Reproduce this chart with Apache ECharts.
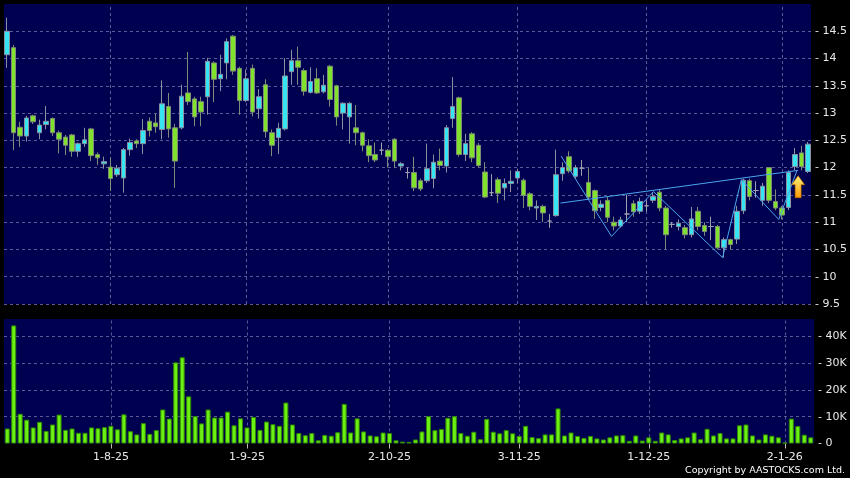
<!DOCTYPE html>
<html>
<head>
<meta charset="utf-8">
<script src="https://cdn.jsdelivr.net/npm/echarts@6/dist/echarts.min.js"></script>
<style>
html,body{margin:0;padding:0;background:#000;}
#c{width:850px;height:478px;}
</style>
</head>
<body>
<div id="c"></div>
<script>
// ---- data ----
const dates = [
'10-7-25','11-7-25','14-7-25','15-7-25','16-7-25','17-7-25','18-7-25','21-7-25','22-7-25','23-7-25','24-7-25','25-7-25','28-7-25','29-7-25','30-7-25','31-7-25',
'1-8-25','4-8-25','5-8-25','6-8-25','7-8-25','8-8-25','11-8-25','12-8-25','13-8-25','14-8-25','15-8-25','18-8-25','19-8-25','20-8-25','21-8-25','22-8-25','25-8-25','26-8-25','27-8-25','28-8-25','29-8-25',
'1-9-25','2-9-25','3-9-25','4-9-25','5-9-25','8-9-25','9-9-25','10-9-25','11-9-25','12-9-25','15-9-25','16-9-25','17-9-25','18-9-25','19-9-25','22-9-25','23-9-25','24-9-25','25-9-25','26-9-25','29-9-25','30-9-25',
'2-10-25','3-10-25','6-10-25','8-10-25','9-10-25','10-10-25','13-10-25','14-10-25','15-10-25','16-10-25','17-10-25','20-10-25','21-10-25','22-10-25','23-10-25','24-10-25','27-10-25','28-10-25','30-10-25','31-10-25',
'3-11-25','4-11-25','5-11-25','6-11-25','7-11-25','10-11-25','11-11-25','12-11-25','13-11-25','14-11-25','17-11-25','18-11-25','19-11-25','20-11-25','21-11-25','24-11-25','25-11-25','26-11-25','27-11-25','28-11-25',
'1-12-25','2-12-25','3-12-25','4-12-25','5-12-25','8-12-25','9-12-25','10-12-25','11-12-25','12-12-25','15-12-25','16-12-25','17-12-25','18-12-25','19-12-25','22-12-25','23-12-25','24-12-25','29-12-25','30-12-25','31-12-25',
'2-1-26','5-1-26','6-1-26','7-1-26','8-1-26'];

const openP = [
14.07,14.20,12.74,12.58,12.95,12.64,12.79,12.90,12.64,12.56,12.60,12.30,12.44,12.71,12.24,12.07,12.01,11.87,11.81,12.33,
12.49,12.44,12.85,12.82,12.70,13.12,12.73,12.73,13.37,13.26,13.21,13.30,13.92,13.63,13.92,14.41,13.82,13.23,13.82,13.08,
13.52,12.64,12.55,12.71,13.76,13.96,13.78,13.38,13.63,13.39,13.86,13.50,13.00,12.93,12.73,12.64,12.40,12.24,12.32,12.32,
12.52,12.03,11.91,11.91,11.76,11.76,11.80,12.12,12.03,12.90,13.28,12.24,12.62,12.41,11.92,11.54,11.78,11.63,11.71,11.81,
11.77,11.52,11.26,11.29,11.02,11.12,11.89,12.20,11.84,11.99,11.73,11.58,11.27,11.40,11.00,10.93,11.15,11.34,11.20,11.30,
11.40,11.55,11.26,10.96,10.92,10.90,10.77,11.20,10.94,10.92,10.92,10.53,10.68,10.69,11.21,11.76,11.58,11.40,12.00,11.38,
11.26,11.27,12.02,12.27,11.93];
const closeP = [
14.50,12.64,12.58,12.91,12.84,12.78,12.85,12.64,12.52,12.41,12.30,12.44,12.51,12.22,12.18,12.11,11.80,11.99,12.33,12.46,
12.44,12.68,12.68,12.75,13.17,12.71,12.12,13.31,13.21,12.93,13.02,13.95,13.62,13.71,14.31,13.77,13.23,13.63,13.02,13.30,
12.66,12.41,12.72,13.68,13.96,13.84,13.40,13.58,13.37,13.51,13.25,12.93,13.18,13.18,12.64,12.41,12.22,12.14,12.32,12.20,
12.12,12.07,11.91,11.63,11.61,11.98,12.10,12.04,12.73,13.12,12.24,12.44,12.18,12.04,11.46,11.54,11.53,11.71,11.75,11.93,
11.49,11.29,11.29,11.17,11.02,11.87,12.00,11.94,12.00,11.99,11.46,11.21,11.33,11.09,10.93,11.04,11.15,11.19,11.38,11.30,
11.47,11.26,10.77,10.96,10.98,10.77,11.06,10.92,10.83,10.92,10.53,10.68,10.59,11.20,11.77,11.47,11.58,11.66,11.40,11.26,
11.13,11.91,12.24,12.02,12.43];
const lowP = [
13.83,12.32,12.38,12.48,12.80,12.52,12.70,12.58,12.26,12.23,12.20,12.20,12.38,12.12,12.05,11.98,11.57,11.83,11.54,12.22,
12.36,12.25,12.57,12.64,12.52,12.55,11.63,12.70,13.15,12.76,12.76,12.97,13.20,13.40,13.62,13.70,12.97,13.20,12.94,12.90,
12.55,12.21,12.25,12.68,13.52,13.52,13.32,13.36,13.35,13.36,13.12,12.77,12.70,12.44,12.41,12.30,12.10,12.10,12.23,12.00,
11.99,11.95,11.80,11.57,11.57,11.72,11.62,11.95,11.91,12.73,12.20,12.12,12.10,12.00,11.44,11.48,11.35,11.40,11.55,11.72,
11.26,11.22,11.04,11.00,10.90,11.10,11.76,11.90,11.80,11.85,11.41,11.06,11.20,11.00,10.85,10.90,11.00,11.10,11.15,11.20,
11.35,11.20,10.50,10.90,10.85,10.70,10.72,10.85,10.75,10.67,10.50,10.35,10.50,10.60,11.15,11.40,11.45,11.30,11.35,11.22,
11.05,11.22,11.95,11.95,11.90];
const highP = [
14.75,14.25,12.84,12.95,12.97,12.88,13.13,12.92,12.68,12.60,12.62,12.46,12.73,12.73,12.28,12.20,12.19,12.05,12.36,12.53,
12.52,12.89,12.92,12.99,13.60,13.37,12.80,13.52,14.12,13.30,13.30,14.01,13.95,14.07,14.37,14.43,13.85,13.80,13.89,13.44,
13.62,12.70,12.82,14.01,14.16,14.22,13.82,13.84,13.82,13.70,13.88,13.52,13.20,13.20,13.15,12.66,12.52,12.46,12.46,12.34,
12.54,12.10,12.00,12.20,11.80,12.44,12.24,12.35,12.78,13.66,13.30,12.62,12.65,12.45,12.10,11.88,11.82,11.80,11.95,11.98,
11.80,11.55,11.40,11.32,11.15,12.33,12.10,12.30,12.05,12.14,11.99,11.60,11.40,11.46,11.10,11.10,11.50,11.40,11.45,11.40,
11.55,11.60,11.30,11.00,11.05,10.95,11.28,11.28,11.00,11.10,10.95,10.72,10.70,11.30,11.80,11.80,11.75,11.72,12.00,11.60,
11.30,11.95,12.36,12.40,12.47];
const volume = [
5600,44100,11100,8900,6000,8100,4700,7100,10800,5100,5600,4000,4000,6000,5700,6100,6600,5300,10900,4600,
3400,7600,3600,5000,12700,9300,30300,32200,17600,10200,7500,12700,9700,9700,11900,6800,9400,6000,9900,5100,
8200,7200,6600,15300,7100,3900,3100,3900,1200,3200,2900,4200,14800,4100,9400,4500,3000,2700,4100,3900,
1200,700,600,1500,4500,10200,5000,5400,9600,10200,3900,2900,4400,1600,9200,4400,3800,5000,3800,2800,
6600,2400,2000,3400,3400,13100,3000,4100,2800,2100,2800,1900,1500,2300,3000,3100,1000,3000,1100,2300,
1000,4100,3400,1300,1900,2300,4100,1600,5500,3000,3900,1900,1900,6800,7100,3000,1500,3400,2900,2300,
300,9300,6500,3300,2300];

const xTickLabels = ['1-8-25','1-9-25','2-10-25','3-11-25','1-12-25','2-1-26'];
const priceTicks = {min: 9.5, max: 15, step: 0.5};
const volTicks = {min: 0, max: 46500, step: 10000};

// pattern annotations (category index, price)
const necklineX = [85.7, 122.5];
const necklineY = [11.35, 11.95];
const zigzagX = [85.8, 93.6, 100.1, 110.8, 113.7, 119.5, 122.3];
const zigzagY = [12.21, 10.74, 11.56, 10.35, 11.78, 11.05, 11.94];
const arrowX = [122.5];
const arrowY = [11.65];

const copyrightText = 'Copyright by AASTOCKS.com Ltd.';

// ---- styles ----
const NAVY = '#000050';
const GRID = '#5a5a96';
const CYAN = '#36e4f2';
const GREEN = '#80e22c';
const VOL = '#6cf014';
const TXT = '#e8e8e8';
const FONT = 'DejaVu Sans';

const candleData = openP.map((o, i) => [o, closeP[i], lowP[i], highP[i]]);
const showSet = new Set(xTickLabels);
const vLines = xTickLabels.map(d => ({xAxis: d}));

function fmtPrice(v) {
  if (v > 14.75) return '';
  return '- ' + String(+v.toFixed(1));
}
function fmtVol(v) {
  if (v % 10000 !== 0) return '';
  return '- ' + (v === 0 ? '0' : (v / 1000) + 'K');
}

const chart = echarts.init(document.getElementById('c'), null, {renderer: 'canvas'});
const gridMark = {
  silent: true, symbol: ['none', 'none'], z: 1,
  label: {show: false},
  lineStyle: {color: GRID, type: [3, 3], width: 1},
  data: vLines
};

chart.setOption({
  backgroundColor: '#000',
  animation: false,
  textStyle: {fontFamily: FONT},
  grid: [
    {left: 4, top: 4, width: 810, height: 300, show: true, backgroundColor: NAVY, borderWidth: 0},
    {left: 4, top: 319, width: 810, height: 124.5, show: true, backgroundColor: NAVY, borderWidth: 0}
  ],
  xAxis: [
    {type: 'category', gridIndex: 0, data: dates, boundaryGap: true,
      axisLine: {show: false}, axisTick: {show: false}, axisLabel: {show: false}, splitLine: {show: false}},
    {type: 'category', gridIndex: 1, data: dates, boundaryGap: true,
      axisLine: {show: false},
      axisTick: {show: true, alignWithLabel: true, length: 5, interval: (i, v) => showSet.has(v), lineStyle: {color: '#bbbbbb'}},
      axisLabel: {show: true, interval: (i, v) => showSet.has(v), color: TXT, fontSize: 11, fontFamily: FONT, margin: 8},
      splitLine: {show: false}},
    {type: 'value', gridIndex: 0, min: -0.5, max: 124.5, show: false}
  ],
  yAxis: [
    {type: 'value', gridIndex: 0, position: 'right', min: priceTicks.min, max: priceTicks.max, interval: priceTicks.step,
      axisLine: {show: false}, axisTick: {show: false},
      axisLabel: {color: TXT, fontSize: 11, fontFamily: FONT, margin: 4, formatter: fmtPrice},
      splitLine: {show: true, showMaxLine: false, lineStyle: {color: GRID, type: [3, 3], width: 1}}},
    {type: 'value', gridIndex: 1, position: 'right', min: volTicks.min, max: volTicks.max, interval: volTicks.step,
      axisLine: {show: false}, axisTick: {show: false},
      axisLabel: {color: TXT, fontSize: 11, fontFamily: FONT, margin: 4, formatter: fmtVol, showMaxLabel: false},
      splitLine: {show: true, showMaxLine: false, showMinLine: false, lineStyle: {color: GRID, type: [3, 3], width: 1}}}
  ],
  series: [
    {type: 'line', xAxisIndex: 0, yAxisIndex: 0, data: [], z: 1, markLine: gridMark},
    {type: 'line', xAxisIndex: 1, yAxisIndex: 1, data: [], z: 1, markLine: gridMark},
    {type: 'candlestick', xAxisIndex: 0, yAxisIndex: 0, data: candleData, barWidth: 5, z: 5,
      itemStyle: {color: CYAN, color0: GREEN, borderColor: '#8a90a0', borderColor0: '#7f8a78', borderColorDoji: '#a0a0b0', borderWidth: 1}},
    {type: 'bar', xAxisIndex: 1, yAxisIndex: 1, data: volume, barWidth: 5, z: 5,
      itemStyle: {color: VOL, borderColor: '#2f8a00', borderWidth: 1}},
    {type: 'line', xAxisIndex: 2, yAxisIndex: 0, data: necklineX.map((x, i) => [x, necklineY[i]]),
      symbol: 'none', z: 8, lineStyle: {color: '#4aa6ee', width: 1}},
    {type: 'line', xAxisIndex: 2, yAxisIndex: 0, data: zigzagX.map((x, i) => [x, zigzagY[i]]),
      symbol: 'none', z: 8, lineStyle: {color: '#4aa6ee', width: 1}},
    {type: 'scatter', xAxisIndex: 2, yAxisIndex: 0, data: arrowX.map((x, i) => [x, arrowY[i]]), z: 9,
      symbol: 'path://M6.5,0 L13,9 L9.5,9 L9.5,22 L3.5,22 L3.5,9 L0,9 Z', symbolSize: [13, 22],
      itemStyle: {color: new echarts.graphic.LinearGradient(0, 0, 0, 1, [{offset: 0, color: '#fff27a'}, {offset: 1, color: '#ff9800'}]),
        borderColor: '#b06a00', borderWidth: 0.6, opacity: 1}}
  ],
  graphic: [
    {type: 'text', x: 845, y: 471, z: 100,
      style: {text: copyrightText, fill: '#ffffff', font: '9.5px "DejaVu Sans"', align: 'right', verticalAlign: 'middle', textAlign: 'right', textVerticalAlign: 'middle'}}
  ]
});
</script>
</body>
</html>
